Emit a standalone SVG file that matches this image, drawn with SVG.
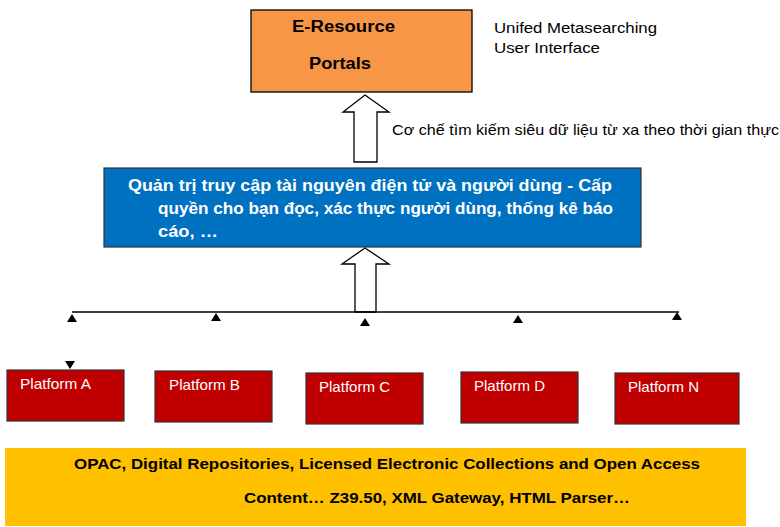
<svg xmlns="http://www.w3.org/2000/svg" width="780" height="527" viewBox="0 0 780 527">
<style>
text{font-family:"Liberation Sans",Arial,sans-serif}
.b{font-weight:bold}
.w{fill:#fff}
.plat{fill:#C00000;stroke:#333;stroke-width:1.2}
.hollow{fill:#fff;stroke:#000;stroke-width:1.3}
.tri{fill:#000}
</style>
<rect width="780" height="527" fill="#fff"/>
<g id="portal">
<rect x="251" y="10" width="221" height="82" fill="#F79646" stroke="#000" stroke-width="1.3"/>
<text x="292" y="32" class="b" font-size="16" textLength="103" lengthAdjust="spacingAndGlyphs">E-Resource</text>
<text x="309" y="69" class="b" font-size="16" textLength="62" lengthAdjust="spacingAndGlyphs">Portals</text>
</g>
<g id="ui-label">
<text x="494" y="33" font-size="15" textLength="163" lengthAdjust="spacingAndGlyphs">Unifed Metasearching</text>
<text x="494" y="53" font-size="15" textLength="106" lengthAdjust="spacingAndGlyphs">User Interface</text>
</g>
<g id="access">
<rect x="104" y="168" width="537" height="79" fill="#0070C0" stroke="#333" stroke-width="1.2"/>
<text class="b w" font-size="16"><tspan x="128" y="191" textLength="484" lengthAdjust="spacingAndGlyphs">Quản trị truy cập tài nguyên điện tử và người dùng - Cấp</tspan></text>
<text class="b w" font-size="16"><tspan x="158" y="214" textLength="455" lengthAdjust="spacingAndGlyphs">quyền cho bạn đọc, xác thực người dùng, thống kê báo</tspan></text>
<text class="b w" font-size="16"><tspan x="158" y="237" textLength="60" lengthAdjust="spacingAndGlyphs">cáo, …</tspan></text>
</g>
<g id="platform-a"><rect class="plat" x="7" y="370" width="117" height="51"/><text class="w" x="20" y="389" font-size="15" textLength="71" lengthAdjust="spacingAndGlyphs">Platform A</text></g>
<g id="platform-b"><rect class="plat" x="155" y="371" width="117" height="51"/><text class="w" x="169" y="390" font-size="15" textLength="71" lengthAdjust="spacingAndGlyphs">Platform B</text></g>
<g id="platform-c"><rect class="plat" x="306" y="373" width="117" height="51"/><text class="w" x="319" y="392" font-size="15" textLength="71" lengthAdjust="spacingAndGlyphs">Platform C</text></g>
<g id="platform-d"><rect class="plat" x="461" y="372" width="117" height="51"/><text class="w" x="474" y="391" font-size="15" textLength="71" lengthAdjust="spacingAndGlyphs">Platform D</text></g>
<g id="platform-n"><rect class="plat" x="615" y="373" width="124" height="51"/><text class="w" x="628" y="392" font-size="15" textLength="71" lengthAdjust="spacingAndGlyphs">Platform N</text></g>
<g id="content">
<rect x="5" y="448" width="741" height="78" fill="#FFC000"/>
<text class="b" x="74" y="469" font-size="15" textLength="626" lengthAdjust="spacingAndGlyphs">OPAC, Digital Repositories, Licensed Electronic Collections and Open Access</text>
<text class="b" x="244" y="503" font-size="15" textLength="386" lengthAdjust="spacingAndGlyphs">Content… Z39.50, XML Gateway, HTML Parser…</text>
</g>
<g id="connectors">
<path class="hollow" d="M365,95 L389,112 L377,112 L377,162 L354,162 L354,112 L343,112 Z"/>
<text x="392" y="135" font-size="15" textLength="387" lengthAdjust="spacingAndGlyphs">Cơ chế tìm kiếm siêu dữ liệu từ xa theo thời gian thực</text>
<path class="hollow" d="M365,248 L389,264 L376,264 L376,312 L355,312 L355,264 L342,264 Z"/>
<line x1="72" y1="312" x2="679" y2="312" stroke="#000" stroke-width="1.3"/>
<path class="tri" d="M72,314 L77,322 L67,322 Z"/>
<path class="tri" d="M216,313 L221,321 L211,321 Z"/>
<path class="tri" d="M365,318 L370,326 L360,326 Z"/>
<path class="tri" d="M518,315 L523,323 L513,323 Z"/>
<path class="tri" d="M677,312 L682,320 L672,320 Z"/>
<path class="tri" d="M70,369 L75,361 L65,361 Z"/>
</g>
</svg>
